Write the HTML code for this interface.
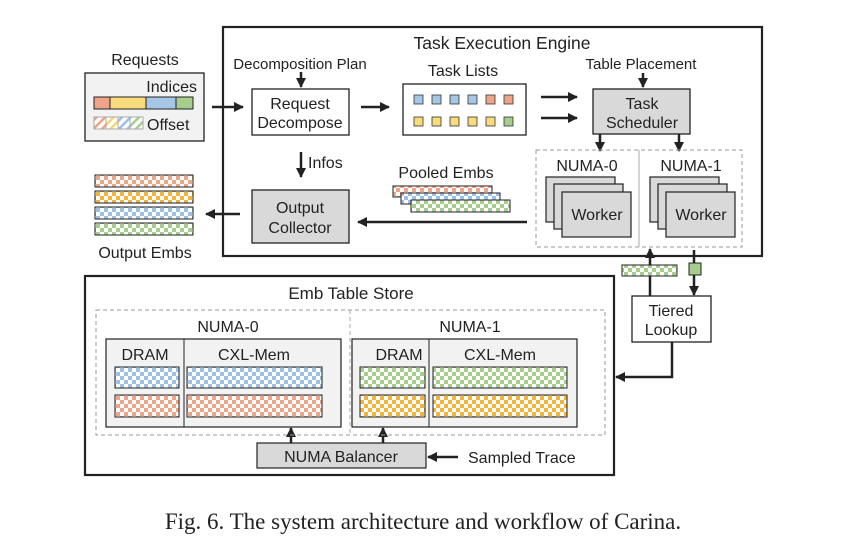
<!DOCTYPE html>
<html><head><meta charset="utf-8"><style>
body{margin:0;background:#fff}
svg{display:block}
text{font-family:"Liberation Sans",sans-serif;font-size:16px;fill:#222}
</style></head><body>
<svg width="863" height="560" viewBox="0 0 863 560" xmlns="http://www.w3.org/2000/svg">
<defs>
<marker id="a" viewBox="0 0 10 10" refX="9" refY="5" markerWidth="4" markerHeight="4" orient="auto"><path d="M0,0L10,5L0,10z" fill="#222"/></marker>
<pattern id="pb" width="8" height="8" patternUnits="userSpaceOnUse"><rect width="8" height="8" fill="#fff"/><rect width="4" height="4" fill="#9dc0e4"/><rect x="4" y="4" width="4" height="4" fill="#9dc0e4"/></pattern>
<pattern id="po" width="8" height="8" patternUnits="userSpaceOnUse"><rect width="8" height="8" fill="#fff"/><rect width="4" height="4" fill="#eea487"/><rect x="4" y="4" width="4" height="4" fill="#eea487"/></pattern>
<pattern id="pg" width="8" height="8" patternUnits="userSpaceOnUse"><rect width="8" height="8" fill="#fff"/><rect width="4" height="4" fill="#a6cd8c"/><rect x="4" y="4" width="4" height="4" fill="#a6cd8c"/></pattern>
<pattern id="py" width="8" height="8" patternUnits="userSpaceOnUse"><rect width="8" height="8" fill="#fff"/><rect width="4" height="4" fill="#f2b43c"/><rect x="4" y="4" width="4" height="4" fill="#f2b43c"/></pattern>
<pattern id="s1" width="6" height="6" patternUnits="userSpaceOnUse" patternTransform="rotate(45)"><rect width="6" height="6" fill="#fff"/><rect width="2.5" height="6" fill="#eea487"/></pattern>
<pattern id="s2" width="6" height="6" patternUnits="userSpaceOnUse" patternTransform="rotate(45)"><rect width="6" height="6" fill="#fff"/><rect width="2.5" height="6" fill="#f5d770"/></pattern>
<pattern id="s3" width="6" height="6" patternUnits="userSpaceOnUse" patternTransform="rotate(45)"><rect width="6" height="6" fill="#fff"/><rect width="2.5" height="6" fill="#9dc0e4"/></pattern>
<pattern id="s4" width="6" height="6" patternUnits="userSpaceOnUse" patternTransform="rotate(45)"><rect width="6" height="6" fill="#fff"/><rect width="2.5" height="6" fill="#a6cd8c"/></pattern>
</defs>
<g stroke="#222" stroke-width="2.5" fill="none">
<line x1="212" y1="107" x2="243" y2="107" marker-end="url(#a)"/>
<line x1="301" y1="72" x2="301" y2="87" marker-end="url(#a)"/>
<line x1="361" y1="107" x2="389" y2="107" marker-end="url(#a)"/>
<line x1="541" y1="97" x2="577" y2="97" marker-end="url(#a)"/>
<line x1="541" y1="118" x2="577" y2="118" marker-end="url(#a)"/>
<line x1="643" y1="73" x2="643" y2="87" marker-end="url(#a)"/>
<line x1="600" y1="134" x2="600" y2="151" marker-end="url(#a)"/>
<line x1="679" y1="134" x2="679" y2="151" marker-end="url(#a)"/>
<line x1="301" y1="152" x2="301" y2="177" marker-end="url(#a)"/>
<line x1="527" y1="222" x2="358" y2="222" marker-end="url(#a)"/>
<line x1="240" y1="214" x2="206" y2="214" marker-end="url(#a)"/>
<line x1="650" y1="296" x2="650" y2="249" marker-end="url(#a)"/>
<line x1="694" y1="250" x2="694" y2="295" marker-end="url(#a)"/>
<polyline points="672,342 672,377 616,377" marker-end="url(#a)"/>
<line x1="291" y1="443" x2="291" y2="428" marker-end="url(#a)"/>
<line x1="383" y1="443" x2="383" y2="428" marker-end="url(#a)"/>
<line x1="458" y1="457" x2="428" y2="457" marker-end="url(#a)"/>
</g>
<rect x="223" y="27" width="539" height="229" fill="none" stroke="#222" stroke-width="2.2"/>
<text x="502" y="49" text-anchor="middle" style="font-size:17.5px">Task Execution Engine</text>
<text x="145" y="65" text-anchor="middle">Requests</text>
<rect x="85" y="73" width="119" height="68" fill="#f2f2f2" stroke="#222" stroke-width="1.3"/>
<text x="197" y="92" text-anchor="end">Indices</text>
<g stroke="#222" stroke-width="1"><rect x="94" y="97" width="16" height="12" fill="#eea487"/><rect x="110" y="97" width="36" height="12" fill="#f8dc7c"/><rect x="146" y="97" width="30" height="12" fill="#a7c6e6"/><rect x="176" y="97" width="17" height="12" fill="#a6cd8c"/>
<rect x="94" y="117" width="12" height="12" fill="url(#s1)" stroke="#aaa"/><rect x="106" y="117" width="12" height="12" fill="url(#s2)" stroke="#aaa"/><rect x="118" y="117" width="12" height="12" fill="url(#s3)" stroke="#aaa"/><rect x="130" y="117" width="13" height="12" fill="url(#s4)" stroke="#aaa"/></g>
<text x="147" y="130">Offset</text>
<text x="300" y="69" text-anchor="middle" style="font-size:15px">Decomposition Plan</text>
<rect x="252" y="89" width="97" height="46" fill="#fff" stroke="#222" stroke-width="1.3"/>
<text x="300" y="109" text-anchor="middle">Request</text><text x="300" y="128" text-anchor="middle">Decompose</text>
<text x="463" y="76" text-anchor="middle">Task Lists</text>
<rect x="403" y="84" width="123" height="51" fill="#fff" stroke="#222" stroke-width="1.3"/>
<g stroke="#333" stroke-width="0.8">
<rect x="414" y="95" width="9" height="9" fill="#a7c6e6"/><rect x="432" y="95" width="9" height="9" fill="#a7c6e6"/><rect x="450" y="95" width="9" height="9" fill="#a7c6e6"/><rect x="468" y="95" width="9" height="9" fill="#a7c6e6"/><rect x="486" y="95" width="9" height="9" fill="#eea487"/><rect x="504" y="95" width="9" height="9" fill="#eea487"/>
<rect x="414" y="117" width="9" height="9" fill="#f8dc7c"/><rect x="432" y="117" width="9" height="9" fill="#f8dc7c"/><rect x="450" y="117" width="9" height="9" fill="#f8dc7c"/><rect x="468" y="117" width="9" height="9" fill="#f8dc7c"/><rect x="486" y="117" width="9" height="9" fill="#f8dc7c"/><rect x="504" y="117" width="9" height="9" fill="#a6cd8c"/></g>
<text x="641" y="69" text-anchor="middle" style="font-size:15px">Table Placement</text>
<rect x="593" y="89" width="97" height="45" fill="#d9d9d9" stroke="#222" stroke-width="1.3"/>
<text x="642" y="109" text-anchor="middle">Task</text><text x="642" y="128" text-anchor="middle">Scheduler</text>
<rect x="536" y="150" width="206" height="97" fill="none" stroke="#999" stroke-dasharray="4,3"/>
<line x1="639" y1="150" x2="639" y2="247" stroke="#aaa"/>
<text x="587" y="171" text-anchor="middle">NUMA-0</text><text x="691" y="171" text-anchor="middle">NUMA-1</text>
<g fill="#d9d9d9" stroke="#222" stroke-width="1.2">
<rect x="546" y="177" width="69" height="45"/><rect x="554" y="184" width="69" height="45"/><rect x="562" y="192" width="69" height="45"/>
<rect x="650" y="177" width="69" height="45"/><rect x="658" y="184" width="69" height="45"/><rect x="666" y="192" width="69" height="45"/></g>
<text x="597" y="220" text-anchor="middle">Worker</text><text x="701" y="220" text-anchor="middle">Worker</text>
<text x="308" y="168">Infos</text>
<rect x="252" y="190" width="97" height="53" fill="#d9d9d9" stroke="#222" stroke-width="1.3"/>
<text x="300" y="213" text-anchor="middle">Output</text><text x="300" y="233" text-anchor="middle">Collector</text>
<text x="446" y="178" text-anchor="middle">Pooled Embs</text>
<g stroke="#222" stroke-width="1">
<rect x="393" y="186" width="99" height="11" fill="url(#po)"/><rect x="401" y="193" width="99" height="11" fill="url(#pb)"/><rect x="411" y="200" width="99" height="12" fill="url(#pg)"/>
<rect x="95" y="175" width="98" height="12" fill="url(#po)"/><rect x="95" y="191" width="98" height="12" fill="url(#py)"/><rect x="95" y="207" width="98" height="12" fill="url(#pb)"/><rect x="95" y="223" width="98" height="12" fill="url(#pg)"/>
<rect x="622" y="265" width="55" height="11" fill="url(#pg)"/><rect x="689" y="263" width="12" height="12" fill="#a6cd8c"/></g>
<text x="145" y="258" text-anchor="middle">Output Embs</text>
<rect x="632" y="296" width="79" height="46" fill="#fff" stroke="#222" stroke-width="1.3"/>
<text x="671" y="316" text-anchor="middle">Tiered</text><text x="671" y="335" text-anchor="middle">Lookup</text>
<rect x="85" y="276" width="529" height="199" fill="none" stroke="#222" stroke-width="2.2"/>
<text x="351" y="299" text-anchor="middle" style="font-size:17px">Emb Table Store</text>
<rect x="96" y="310" width="509" height="125" fill="none" stroke="#999" stroke-dasharray="4,3"/>
<line x1="350" y1="310" x2="350" y2="435" stroke="#aaa" stroke-dasharray="4,3"/>
<text x="228" y="332" text-anchor="middle">NUMA-0</text><text x="470" y="332" text-anchor="middle">NUMA-1</text>
<rect x="106" y="339" width="235" height="88" fill="#f2f2f2" stroke="#222" stroke-width="1.2"/><line x1="184" y1="339" x2="184" y2="427" stroke="#222"/>
<rect x="352" y="339" width="225" height="88" fill="#f2f2f2" stroke="#222" stroke-width="1.2"/><line x1="429" y1="339" x2="429" y2="427" stroke="#222"/>
<text x="145" y="360" text-anchor="middle">DRAM</text><text x="254" y="360" text-anchor="middle">CXL-Mem</text>
<text x="399" y="360" text-anchor="middle">DRAM</text><text x="500" y="360" text-anchor="middle">CXL-Mem</text>
<g stroke="#222" stroke-width="1">
<rect x="115" y="367" width="64" height="21" fill="url(#pb)"/><rect x="187" y="367" width="135" height="21" fill="url(#pb)"/>
<rect x="115" y="395" width="64" height="22" fill="url(#po)"/><rect x="187" y="395" width="135" height="22" fill="url(#po)"/>
<rect x="360" y="367" width="65" height="21" fill="url(#pg)"/><rect x="433" y="367" width="134" height="21" fill="url(#pg)"/>
<rect x="360" y="395" width="65" height="22" fill="url(#py)"/><rect x="433" y="395" width="134" height="22" fill="url(#py)"/></g>
<rect x="257" y="443" width="169" height="25" fill="#d9d9d9" stroke="#222" stroke-width="1.2"/>
<text x="341" y="462" text-anchor="middle">NUMA Balancer</text>
<text x="468" y="463">Sampled Trace</text>
<text x="423" y="529" text-anchor="middle" style="font-family:'Liberation Serif',serif;font-size:23px">Fig. 6.  The system architecture and workflow of Carina.</text>
</svg>
</body></html>
